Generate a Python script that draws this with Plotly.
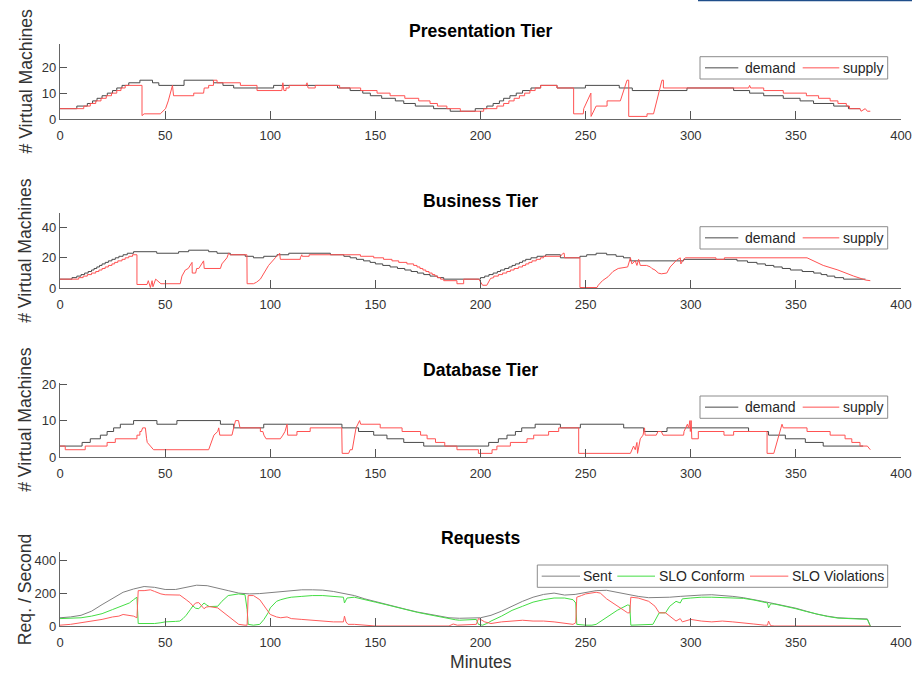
import plotly.graph_objects as go

# ---------------------------------------------------------------- data
# Presentation tier: demand is a step series (value holds until next time)
pres_demand_t = [0, 8, 13, 15.5, 17.6, 20, 22.5, 25, 27, 29.5,
                 32.7, 38, 44, 47, 59, 73, 77.5, 82.6, 101.6, 132,
                 138, 144, 147.6, 153, 159.5, 163.5, 169, 177.7, 185.6, 197.5,
                 203, 206, 209, 211, 214, 217, 220, 224, 228.6, 236.4,
                 249.9, 266, 272.2, 298.2, 320.4, 328, 334.7, 344, 352, 358.4,
                 368, 375, 380.6]
pres_demand_vm = [4, 5, 6, 7, 8, 9, 10, 11, 12, 13,
                  14, 15, 14, 13, 15, 14, 13, 12, 13, 12,
                  11, 10, 9, 8, 7, 6, 5, 4, 3, 4,
                  5, 6, 7, 8, 9, 10, 11, 12, 13, 12,
                  13, 12, 11, 12, 11, 10, 9, 8, 7, 6,
                  5, 4, 4]
pres_supply_t = [0, 11.3, 11.3, 14.4, 14.4, 17, 17, 19.5, 19.5, 22,
                 22, 24.5, 24.5, 27, 27, 29, 29, 31, 31, 39,
                 39, 40, 47.7, 49, 50.2, 51.5, 53, 53.5, 54, 63.6,
                 63.6, 68.3, 68.6, 70.7, 70.7, 73, 73, 74.7, 74.7, 85.8,
                 85.8, 93.7, 93.7, 105.5, 106, 106.5, 107.5, 107.5, 109, 109,
                 117, 117.5, 118, 121.4, 121.4, 133, 133, 143, 143, 150.8,
                 150.8, 157, 157, 164, 164, 170.6, 170.6, 176, 176, 179.5,
                 179.5, 184, 184, 190.4, 190.4, 201.5, 201.5, 207.8, 207.8, 211,
                 211, 213.5, 213.5, 216, 216, 218.5, 218.5, 221, 221, 223.5,
                 223.5, 226, 226, 228.6, 228.6, 236.4, 236.4, 244.3, 244.3, 248.9,
                 249.1, 252.5, 252.6, 255, 260.2, 260.2, 266.5, 269.7, 270.5, 270.5,
                 279.2, 279.2, 282.3, 286.3, 287, 287, 327.5, 328, 328.5, 334.7,
                 334.7, 344, 344, 355, 355, 360.8, 360.8, 366.3, 366.3, 370,
                 370, 374, 374, 375.5, 375.5, 380.5, 381, 383, 384, 385.4]
pres_supply_vm = [4, 4, 5, 5, 6, 6, 7, 7, 8, 8,
                  9, 9, 10, 10, 11, 11, 12, 12, 13, 13,
                  1.3, 2, 2, 3, 4, 7, 12, 13, 9, 9,
                  10, 10, 12, 12, 13, 13, 15, 15, 14, 14,
                  13, 13, 11, 11, 14, 11, 11, 12, 12, 13,
                  13, 14, 12, 12, 13, 13, 12, 12, 11, 11,
                  10, 10, 9, 9, 8, 8, 7, 7, 6, 6,
                  5, 5, 4, 4, 3, 3, 4, 4, 5, 5,
                  6, 6, 7, 7, 8, 8, 9, 9, 10, 10,
                  11, 11, 12, 12, 13, 13, 12, 12, 2, 2,
                  4, 10, 1, 5, 5, 7, 7, 15, 15, 1,
                  1, 2, 2, 15, 15, 12, 12, 13, 12, 12,
                  11, 11, 10, 10, 9, 9, 8, 8, 7, 7,
                  6, 6, 5, 5, 4, 4, 3, 4, 3, 3]

# Business tier
bus_demand_t = [0, 5.7, 8, 10, 11.7, 13.4, 15, 16.2, 17.5, 18.8,
                20, 21.5, 23, 24.7, 26.3, 28, 30, 32, 35, 46,
                56.4, 61.2, 70.7, 74.7, 81, 88.1, 92, 96.9, 103.2, 108.8,
                128.6, 135, 138, 141, 144.4, 147.5, 150, 153.5, 157, 160.5,
                164, 167, 170, 173, 176, 179.5, 182.5, 200, 202, 204,
                206, 208, 209.5, 211.5, 213.5, 215, 216.6, 218.5, 220, 221.5,
                224, 226.9, 231, 238, 247.3, 250.5, 255, 260, 264.5, 268,
                271.3, 296.6, 322, 327, 331.5, 335.5, 339.5, 343.5, 347.4, 353,
                358.5, 362, 364.8, 368.5, 372.7, 383.1]
bus_demand_vm = [6, 7, 8, 9, 10, 11, 12, 13, 14, 15,
                 16, 17, 18, 19, 20, 21, 22, 23, 24, 23,
                 24, 25, 24, 23, 22, 21, 20, 21, 22, 23,
                 22, 21, 20, 19, 18, 17, 16, 15, 14, 13,
                 12, 11, 10, 9, 8, 7, 6, 7, 8, 9,
                 10, 11, 12, 13, 14, 15, 16, 17, 18, 19,
                 20, 21, 22, 20, 21, 22, 23, 22, 21, 20,
                 18, 19, 18, 17, 16, 15, 14, 13, 12, 11,
                 10, 9, 8, 7, 6, 6]
bus_supply_t = [0, 8.9, 8.9, 11, 11, 13, 13, 15, 15, 17,
                17, 18.5, 18.5, 20, 20, 21.5, 21.5, 23, 23, 24.7,
                24.7, 26, 26, 27.5, 27.5, 29.5, 29.5, 31, 31, 32.7,
                32.7, 34.5, 34.5, 36.6, 36.6, 41.4, 42, 43, 43.8, 44.2,
                45.5, 46.5, 47, 48, 57.2, 58, 59.6, 61, 62.8, 62.9,
                64.5, 65, 66, 68.3, 68.6, 76.3, 77, 79.4, 80.2, 81,
                88.9, 89, 92, 93.5, 95.3, 96.9, 99.2, 102.4, 104, 104.5,
                104.8, 114.3, 114.3, 115, 115.2, 118.5, 118.5, 142.9, 142.9, 149.2,
                149.2, 153.9, 153.9, 157.9, 157.9, 161.1, 161.1, 165, 165, 168.2,
                168.2, 169.8, 169.8, 171.2, 171.2, 172.6, 172.6, 174, 174, 175.5,
                175.5, 177, 177, 178.3, 178.3, 179.6, 179.6, 181, 181, 182.5,
                182.5, 188.8, 188.8, 192, 192, 199.2, 201, 203, 204.8, 206.3,
                206.3, 208.5, 208.5, 210.5, 210.5, 212.5, 212.5, 214.2, 214.2, 216,
                216, 218, 218, 220, 220, 221.5, 221.5, 223, 223, 224.5,
                224.5, 226.5, 226.5, 228.5, 228.5, 230, 230, 238, 239.3, 239.8,
                240, 247.3, 247.3, 255.4, 256, 258, 260.7, 263, 265.5, 270,
                271.3, 272, 273.6, 274.4, 275.2, 276, 279, 280.8, 281.5, 283,
                284.6, 286, 288.6, 290.2, 293.3, 295, 295.3, 296.6, 297.5, 312,
                312, 316, 316, 355.3, 363, 370, 377.5, 383.2, 385.4]
bus_supply_vm = [6, 6, 7, 7, 8, 8, 9, 9, 10, 10,
                 11, 11, 12, 12, 13, 13, 14, 14, 15, 15,
                 16, 16, 17, 17, 18, 18, 19, 19, 20, 20,
                 21, 21, 22, 22, 2.5, 2.5, 5, 0.5, 5, 1,
                 6, 5, 4, 3, 3, 8, 12, 13, 17, 10,
                 10, 13, 13, 18, 13, 13, 16, 20, 23, 22,
                 22, 3, 3, 4, 6, 10, 15, 20, 22, 23,
                 19, 19, 20, 22, 21, 21, 22, 22, 21, 21,
                 20, 20, 19, 19, 18, 18, 17, 17, 16, 16,
                 15, 15, 14, 14, 13, 13, 12, 12, 11, 11,
                 10, 10, 9, 9, 8, 8, 7, 7, 6, 6,
                 5, 5, 3, 3, 6, 6, 2, 2, 6.5, 7,
                 8, 8, 9, 9, 10, 10, 11, 11, 12, 12,
                 13, 13, 14, 14, 15, 15, 16, 16, 17, 17,
                 18, 18, 19, 19, 20, 20, 21, 21, 23, 23,
                 20, 20, 0.5, 0.5, 2, 5, 7.6, 11, 13, 14,
                 20, 16, 18, 15, 19, 15, 15, 14, 13, 12,
                 10, 9.5, 10, 14, 18.5, 20, 16, 19, 20, 20,
                 19, 19, 20, 20, 15, 12, 8, 5.4, 5]

# Database tier
db_demand_t = [0, 10.5, 14.4, 19.2, 22.4, 25.5, 28.7, 35, 46.1, 55.6,
               76.3, 82.6, 96.9, 134.1, 142, 149.2, 155.5, 163.5, 173, 203.9,
               208.5, 212.6, 216.6, 219.6, 226, 238, 247.5, 268.1, 277.6, 288.7,
               327.5, 337, 345, 354.5, 363, 382]
db_demand_vm = [3, 4, 5, 6, 7, 8, 9, 10, 9, 10,
                9, 8, 9, 8, 7, 6, 5, 4, 3, 4,
                5, 6, 7, 8, 9, 8, 9, 8, 7, 8,
                7, 6, 5, 4, 3, 3]
db_supply_t = [0, 2.5, 2.5, 12, 12, 22.4, 22.4, 26.3, 26.3, 36.6,
               36.6, 38, 38, 38.7, 39.3, 40.6, 41.2, 41.5, 43, 44.5,
               70.7, 72, 73.2, 75, 75.5, 76, 81.8, 82.6, 83.5, 84.9,
               85.6, 95.3, 95.3, 96.5, 97, 98, 104.8, 106, 107, 108,
               108.3, 112.7, 112.7, 119, 119, 134, 134.2, 137.3, 138, 139,
               140.8, 142.5, 143, 152.3, 152.3, 162.7, 162.7, 171.5, 171.5, 174.6,
               174.6, 178.6, 178.6, 183, 183, 188.8, 188.8, 199, 199, 205.5,
               205.5, 207.8, 207.8, 214.2, 214.2, 222.1, 222.1, 225.3, 225.3, 232.4,
               232.4, 237.2, 237.2, 246.7, 246.7, 271.3, 272.8, 273.6, 274.4, 274.7,
               276, 277.3, 278, 278.3, 283.6, 284.4, 286, 286.8, 296.6, 296.8,
               298.4, 299, 299.6, 299.8, 300.2, 300.5, 303.6, 303.6, 315.8, 315.8,
               320.4, 320.4, 336.3, 336.3, 339.5, 343.4, 344, 355.3, 355.3, 366.3,
               366.3, 373.4, 373.4, 376.6, 376.6, 380.5, 380.5, 384, 385.4]
db_supply_vm = [3, 3, 2, 2, 3, 3, 4, 4, 5, 5,
                6, 6, 7, 7, 8, 8, 5, 4, 3, 2,
                2, 4, 6, 7, 8, 6, 6, 8, 10, 10,
                8, 8, 7, 7, 6, 5, 5, 6, 7, 9,
                6, 6, 7, 7, 8, 8, 1, 1, 2, 2,
                8, 10, 9, 9, 8, 8, 7, 7, 6, 6,
                5, 5, 4, 4, 3, 3, 2, 2, 1, 1,
                2, 2, 3, 3, 4, 4, 5, 5, 6, 6,
                7, 7, 8, 8, 1, 1, 3, 2, 4, 1,
                5, 6, 8, 6, 6, 7, 7, 6, 6, 7,
                9, 8, 10, 7, 10, 5, 5, 7, 7, 6,
                6, 7, 7, 1, 1, 9, 8, 8, 7, 7,
                6, 6, 5, 5, 4, 4, 3, 3, 2]

# Requests per second
sent_t = [0, 5, 10, 15, 20, 25, 30, 35, 40, 45,
          50, 55, 60, 65, 70, 75, 80, 85, 90, 95,
          100, 105, 110, 115, 120, 125, 130, 135, 140, 145,
          150, 155, 160, 165, 170, 175, 180, 185, 190, 195,
          200, 205, 210, 215, 220, 225, 230, 235, 240, 245,
          250, 255, 260, 265, 270, 275, 280, 285, 290, 295,
          300, 305, 310, 315, 320, 325, 330, 335, 340, 345,
          350, 355, 360, 365, 370, 375, 380, 384, 385.4]
sent_rps = [50, 55, 65, 90, 130, 170, 205, 225, 240, 235,
            222, 222, 235, 248, 245, 232, 215, 200, 195, 197,
            203, 208, 218, 220, 220, 218, 210, 198, 185, 165,
            148, 132, 115, 100, 85, 72, 60, 50, 47, 48,
            50, 65, 90, 120, 150, 175, 192, 200, 188, 192,
            205, 215, 217, 205, 190, 180, 172, 172, 175, 180,
            185, 188, 190, 187, 180, 172, 162, 148, 135, 122,
            108, 90, 72, 60, 50, 47, 45, 43, 0]
conform_t = [0, 5, 10, 15, 20, 25, 28, 30, 33, 35,
             36.6, 37.2, 40, 43, 45, 48, 50, 55, 57, 58.5,
             60, 62, 63.2, 64.5, 66, 67.2, 68.5, 69.5, 71, 75,
             77, 80, 83, 85, 88, 89, 89.5, 92, 95, 97,
             99, 100, 103, 105, 108, 110, 115, 120, 125, 130,
             134.8, 135.3, 136.5, 140, 145, 150, 155, 160, 165, 170,
             175, 180, 185, 188, 190, 195, 198, 199, 201, 203,
             205, 210, 215, 220, 225, 230, 235, 240, 244, 245.3,
             245.8, 250, 253, 255, 260, 265, 270, 271, 271.5, 275,
             280, 282, 285, 288, 290, 293, 295, 296, 300, 305,
             310, 315, 320, 325, 330, 335, 336.5, 337, 338, 340,
             345, 350, 355, 360, 365, 370, 375, 380, 384, 385.4]
conform_rps = [45, 47, 50, 60, 75, 100, 115, 125, 140, 160,
               175, 15, 15, 12, 15, 20, 25, 28, 30, 45,
               65, 100, 122, 108, 105, 122, 140, 130, 118, 120,
               150, 185, 192, 195, 190, 100, 10, 5, 10, 40,
               80, 110, 150, 160, 170, 175, 180, 185, 185, 180,
               175, 140, 170, 175, 162, 145, 130, 113, 98, 83,
               70, 57, 43, 38, 35, 38, 40, 10, 5, 15,
               30, 60, 95, 120, 145, 160, 170, 170, 160, 140,
               10, 5, 5, 10, 50, 95, 128, 125, 5, 8,
               10, 10, 80, 80, 120, 150, 140, 165, 170, 175,
               175, 172, 172, 168, 158, 145, 140, 110, 135, 133,
               120, 105, 88, 72, 58, 48, 45, 43, 40, 0]
violate_t = [0, 5, 10, 15, 20, 25, 28, 30, 33, 35,
             36.6, 37.2, 40, 43, 45, 48, 50, 55, 57, 60,
             62, 63.2, 64.5, 66, 67.2, 68.5, 69.5, 71, 75, 77,
             80, 83, 85, 88, 89, 89.5, 92, 95, 98, 100,
             103, 105, 108, 110, 115, 120, 125, 130, 134.8, 135.3,
             136, 137, 140, 145, 150, 185, 187, 189, 192, 195,
             198, 199, 200, 202, 205, 210, 215, 220, 225, 230,
             235, 240, 244, 245.3, 245.8, 248, 250, 255, 257, 260,
             265, 270, 271, 271.5, 275, 280, 283, 285, 288, 290,
             293, 295, 296, 300, 305, 310, 315, 320, 325, 330,
             335, 336.5, 337, 338, 340, 385.4]
violate_rps = [5, 10, 20, 30, 40, 55, 60, 70, 65, 60,
               50, 215, 215, 220, 210, 195, 190, 190, 188, 160,
               140, 122, 140, 142, 122, 105, 115, 118, 110, 90,
               60, 30, 10, 5, 5, 185, 185, 160, 110, 70,
               55, 50, 55, 45, 40, 35, 30, 25, 25, 60,
               25, 10, 10, 3, 0, 0, 12, 5, 8, 10,
               10, 45, 40, 25, 15, 25, 30, 35, 30, 30,
               25, 15, 10, 20, 175, 185, 195, 205, 200, 165,
               120, 80, 80, 175, 170, 150, 120, 80, 80, 60,
               30, 45, 25, 40, 30, 25, 30, 25, 20, 12,
               5, 5, 30, 2, 0, 0]

x_ticks = [0, 50, 100, 150, 200, 250, 300, 350, 400]
panel_titles = ["Presentation Tier", "Business Tier", "Database Tier", "Requests"]
panel_yticks = [[0, 10, 20], [0, 20, 40], [0, 10, 20], [0, 200, 400]]
panel_ymax = [29, 49.2, 20.4, 448]
y_titles = ["# Virtual Machines", "# Virtual Machines", "# Virtual Machines", "Req. / Second"]

# ---------------------------------------------------------------- layout geometry
W, H = 912, 674
ML, MR = 60, 11
PW = W - ML - MR
panel_px = [(44, 119), (213.3, 288.3), (382.7, 457), (552.3, 626)]   # top, bottom (pixels)
title_px = [31, 201, 370, 538]

# legend boxes: left, right, top, bottom (pixels); entries: line x0, line x1, text x
legend_box_px = [(700, 887.7, 56.7, 79), (700, 887.7, 226.7, 249),
                 (700, 887.7, 396, 418.3), (537.3, 887.7, 565, 587.3)]
tier_entry_px = [(705, 738.3, 745), (802.7, 839.3, 843.3)]
req_entry_px = [(541.7, 580, 583.3), (617.3, 655, 659.3), (750, 788.3, 791.7)]


def fx(p):
    return (p - ML) / PW


def fy(p):
    return 1 - p / H


TXT = "#262626"
FONT = "Arial, Liberation Sans, Helvetica, sans-serif"
DEMAND_C = "#4a4a4a"
SUPPLY_C = "#ff5252"
SENT_C = "#808080"
CONFORM_C = "#44dd44"
VIOLATE_C = "#ff5c5c"

fig = go.Figure()

tiers = [
    (pres_demand_t, pres_demand_vm, pres_supply_t, pres_supply_vm),
    (bus_demand_t, bus_demand_vm, bus_supply_t, bus_supply_vm),
    (db_demand_t, db_demand_vm, db_supply_t, db_supply_vm),
]
for i, (dt, dv, st, sv) in enumerate(tiers):
    k = "" if i == 0 else str(i + 1)
    fig.add_trace(go.Scatter(x=dt, y=dv, mode="lines", name="demand",
                             line=dict(color=DEMAND_C, width=1, shape="hv"),
                             xaxis="x" + k, yaxis="y" + k, showlegend=False))
    fig.add_trace(go.Scatter(x=st, y=sv, mode="lines", name="supply",
                             line=dict(color=SUPPLY_C, width=1),
                             xaxis="x" + k, yaxis="y" + k, showlegend=False))

req_series = [(sent_t, sent_rps, "Sent", SENT_C),
              (conform_t, conform_rps, "SLO Conform", CONFORM_C),
              (violate_t, violate_rps, "SLO Violations", VIOLATE_C)]
for t, v, name, col in req_series:
    fig.add_trace(go.Scatter(x=t, y=v, mode="lines", name=name,
                             line=dict(color=col, width=1),
                             xaxis="x4", yaxis="y4", showlegend=False))

annotations = []
shapes = []
layout = dict(
    width=W, height=H,
    margin=dict(l=ML, r=MR, t=0, b=0, autoexpand=False),
    paper_bgcolor="white", plot_bgcolor="white",
    font=dict(family=FONT, color=TXT, size=13),
)

for i in range(4):
    k = "" if i == 0 else str(i + 1)
    top, bot = panel_px[i]
    layout["xaxis" + k] = dict(
        domain=[0, 1], range=[0, 400], anchor="y" + k,
        tickvals=x_ticks, ticks="inside", ticklen=8, tickwidth=1, tickcolor="#555555",
        showline=True, linecolor="#666666", linewidth=1.2,
        showgrid=False, zeroline=False, ticklabelstandoff=4,
        tickfont=dict(size=13, color="#333333"),
    )
    layout["yaxis" + k] = dict(
        domain=[fy(bot), fy(top)], range=[0, panel_ymax[i]], anchor="x" + k,
        tickvals=panel_yticks[i], ticks="inside", ticklen=7, tickwidth=1, tickcolor="#555555",
        showline=True, linecolor="#666666", linewidth=1.2,
        showgrid=False, zeroline=False,
        tickfont=dict(size=13, color="#333333"),
    )
    annotations.append(dict(
        text="<b>%s</b>" % panel_titles[i], x=0.5, y=fy(title_px[i]),
        xref="paper", yref="paper", xanchor="center", yanchor="middle",
        showarrow=False, font=dict(size=17.6, color="#000000"),
    ))
    annotations.append(dict(
        text=y_titles[i], x=fx(25), y=fy((top + bot) / 2),
        xref="paper", yref="paper", xanchor="center", yanchor="middle",
        textangle=-90, showarrow=False, font=dict(size=17.6, color="#333333"),
    ))

    # boxed legend for the panel
    l, r, bt, bb = legend_box_px[i]
    shapes.append(dict(type="rect", xref="paper", yref="paper", layer="above",
                       x0=fx(l), x1=fx(r), y0=fy(bb), y1=fy(bt),
                       fillcolor="white", line=dict(color="#8c8c8c", width=1)))
    cy = fy((bt + bb) / 2)
    if i < 3:
        entries = [("demand", DEMAND_C, tier_entry_px[0]), ("supply", SUPPLY_C, tier_entry_px[1])]
    else:
        entries = [(s[2], s[3], req_entry_px[j]) for j, s in enumerate(req_series)]
    for name, col, (lx0, lx1, tx) in entries:
        shapes.append(dict(type="line", xref="paper", yref="paper", layer="above",
                           x0=fx(lx0), x1=fx(lx1), y0=cy, y1=cy,
                           line=dict(color=col, width=1)))
        annotations.append(dict(
            text=name, x=fx(tx - 2), y=cy, xref="paper", yref="paper",
            xanchor="left", yanchor="middle", showarrow=False,
            font=dict(size=14, color=TXT),
        ))

annotations.append(dict(
    text="Minutes", x=0.5, y=fy(662), xref="paper", yref="paper",
    xanchor="center", yanchor="middle", showarrow=False,
    font=dict(size=17.6, color="#333333"),
))

# thin rule across the top right corner
shapes.append(dict(
    type="line", xref="paper", yref="paper",
    x0=fx(698), x1=fx(912), y0=fy(0.6), y1=fy(0.6),
    line=dict(color="#1f4e8a", width=1.5),
))

layout["annotations"] = annotations
layout["shapes"] = shapes
fig.update_layout(**layout)
fig.write_html("out.html")
